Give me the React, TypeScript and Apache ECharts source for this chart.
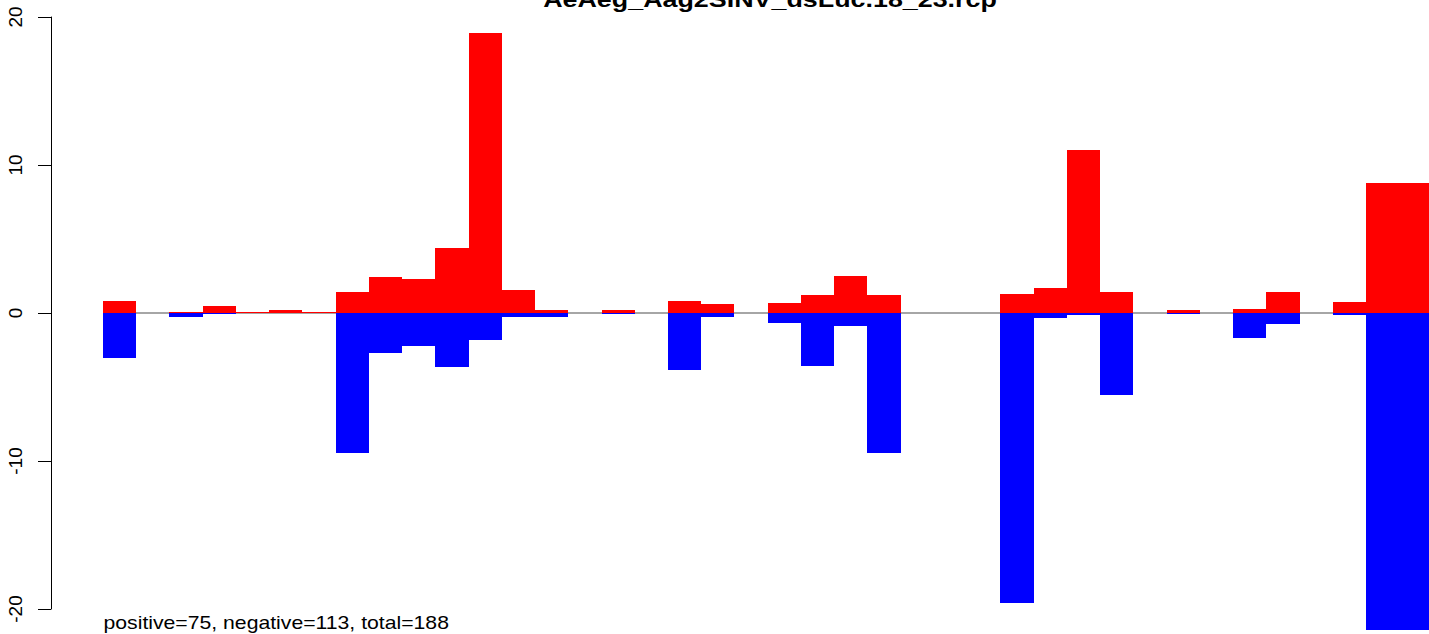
import React, { useEffect, useRef } from "react";
import * as echarts from "echarts";

// Histogram bins (index of bin along the x axis)
const binIndex = [
  0, 1, 2, 3, 4, 5, 6, 7, 8, 9, 10, 11, 12, 13, 14, 15, 16, 17, 18, 19,
  20, 21, 22, 23, 24, 25, 26, 27, 28, 29, 30, 31, 32, 33, 34, 35, 36, 37, 38, 39,
];
// Positive-strand values (red)
const positiveValues = [
  0.81, 0, 0.07, 0.47, 0.05, 0.2, 0.05, 1.42, 2.43, 2.3, 4.4, 18.92, 1.55, 0.2, 0, 0.2, 0, 0.81, 0.61, 0,
  0.68, 1.22, 2.5, 1.22, 0, 0, 0, 1.28, 1.69, 11.01, 1.42, 0, 0.2, 0, 0.27, 1.42, 0, 0.74, 8.78, 8.78,
];
// Negative-strand values (blue)
const negativeValues = [
  -3.04, 0, -0.25, -0.07, 0, 0, 0, -9.46, -2.68, -2.23, -3.65, -1.82, -0.25, -0.25, 0, -0.05, 0, -3.83, -0.27, 0,
  -0.65, -3.58, -0.88, -9.44, 0, 0, 0, -19.57, -0.34, -0.14, -5.54, 0, -0.05, 0, -1.69, -0.74, 0, -0.14, -21.4, -21.4,
];
const yTicks = [-20, -10, 0, 10, 20];
const zeroLineX = [0, 40];

const titleText = "AeAeg_Aag2SINV_dsLuc.18_23.rcp";
const footerText = "positive=75, negative=113, total=188";

const FONT = "'Liberation Sans', Arial, Helvetica, sans-serif";

export default function App() {
  const ref = useRef<HTMLDivElement>(null);

  useEffect(() => {
    if (!ref.current) return;
    const chart = echarts.init(ref.current, null, { renderer: "svg" });

    const data = binIndex.map((b, k) => [b, positiveValues[k], negativeValues[k]]);

    const option: any = {
      animation: false,
      backgroundColor: "#ffffff",
      grid: { left: 51, right: 0, top: 17, bottom: 25, containLabel: false },
      xAxis: {
        type: "value",
        min: -1.5645,
        max: 39.896,
        show: false,
      },
      yAxis: {
        type: "value",
        min: yTicks[0],
        max: yTicks[yTicks.length - 1],
        interval: 10,
        splitLine: { show: false },
        axisLine: { show: true, onZero: false, lineStyle: { color: "#000000", width: 1 } },
        axisTick: { show: true, length: 13, lineStyle: { color: "#000000", width: 1 } },
        axisLabel: {
          rotate: 90,
          margin: 26,
          fontSize: 19,
          color: "#000000",
          fontFamily: FONT,
          formatter: (v: number) => (yTicks.includes(v) ? String(v) : ""),
        },
      },
      series: [
        {
          type: "line",
          data: zeroLineX.map((x) => [x, 0]),
          symbol: "none",
          lineStyle: { color: "#888888", width: 1.3 },
          z: 1,
          silent: true,
          clip: false,
        },
        {
          type: "custom",
          z: 2,
          data,
          clip: false,
          encode: { x: 0, y: [1, 2] },
          renderItem: (_params: any, api: any) => {
            const i = api.value(0);
            const pos = api.value(1);
            const neg = api.value(2);
            const p0 = api.coord([i, 0]);
            const pTop = api.coord([i + 1, pos]);
            const pBot = api.coord([i + 1, neg]);
            const x0 = Math.round(p0[0]);
            const x1 = Math.round(pTop[0]);
            const y0 = Math.round(p0[1]);
            const children: any[] = [];
            if (pos > 0) {
              const yt = Math.round(pTop[1]);
              children.push({
                type: "rect",
                shape: { x: x0, y: yt, width: x1 - x0, height: Math.max(1, y0 - yt) },
                style: { fill: "#ff0000" },
              });
            }
            if (neg < 0) {
              const yb = Math.round(pBot[1]);
              children.push({
                type: "rect",
                shape: { x: x0, y: y0, width: x1 - x0, height: Math.max(1, yb - y0) },
                style: { fill: "#0000ff" },
              });
            }
            return { type: "group", children };
          },
        },
      ],
      graphic: [
        {
          type: "text",
          x: 770,
          y: -1,
          scaleX: 1.178,
          style: {
            text: titleText,
            fontSize: 22.8,
            fontWeight: "bold",
            fontFamily: FONT,
            fill: "#000000",
            align: "center",
            verticalAlign: "middle",
          },
        },
        {
          type: "text",
          x: 103.5,
          y: 622.5,
          scaleX: 1.178,
          style: {
            text: footerText,
            fontSize: 18,
            fontFamily: FONT,
            fill: "#000000",
            align: "left",
            verticalAlign: "middle",
          },
        },
      ],
    };

    chart.setOption(option);
    return () => chart.dispose();
  }, []);

  return (
    <div
      ref={ref}
      style={{ position: "fixed", left: 0, top: 0, width: 1429, height: 634, background: "#fff" }}
    />
  );
}
